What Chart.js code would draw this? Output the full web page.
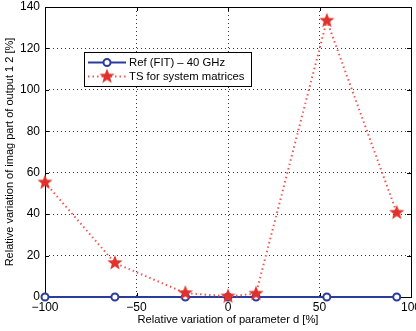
<!DOCTYPE html>
<html><head><meta charset="utf-8">
<script src="https://cdn.jsdelivr.net/npm/chart.js@4/dist/chart.umd.min.js"></script>
<style>html,body{margin:0;padding:0;background:#fff}#wrap{width:416px;height:331px}</style>
</head><body><div id="wrap"><canvas id="c" width="416" height="331"></canvas></div>
<script>
const paramVariation = [-100, -61.8, -23.3, 0, 15.3, 54, 92.2];
const refFit = [0, 0, 0, 0, 0, 0, 0];
const tsSystem = [55.3, 16.4, 1.9, 0.3, 1.6, 133.4, 40.7];
const xTicks = [-100, -50, 0, 50, 100];
const yTicks = [0, 20, 40, 60, 80, 100, 120, 140];
const seriesNames = ['Ref (FIT) \u2013 40 GHz', 'TS for system matrices'];

const BLUE = '#2a3c9c', RED = '#e2312b', RED_LINE = '#ee5a55';
const FONT = '"Liberation Sans", Arial, sans-serif';

function makeStar(r, color) {
  const s = Math.ceil(r * 2 + 2), c = document.createElement('canvas');
  c.width = s; c.height = s;
  const g = c.getContext('2d');
  g.translate(s / 2, s / 2);
  g.beginPath();
  for (let i = 0; i < 10; i++) {
    const rr = i % 2 === 0 ? r : r * 0.42;
    const a = -Math.PI / 2 + i * Math.PI / 5;
    g.lineTo(rr * Math.cos(a), rr * Math.sin(a));
  }
  g.closePath(); g.fillStyle = color; g.fill();
  return c;
}
const star = makeStar(8, RED);

const frame = {
  id: 'frame',
  beforeDatasetsDraw(chart) {
    const {ctx, chartArea: a, scales: {x, y}} = chart;
    ctx.save();
    ctx.strokeStyle = '#000'; ctx.lineWidth = 1;
    ctx.strokeRect(Math.round(a.left) + 0.5, Math.round(a.top) + 0.5, Math.round(a.right - a.left), Math.round(a.bottom - a.top));
    ctx.beginPath();
    xTicks.forEach(v => { const px = Math.round(x.getPixelForValue(v)) + 0.5;
      ctx.moveTo(px, a.bottom); ctx.lineTo(px, a.bottom - 4);
      ctx.moveTo(px, a.top); ctx.lineTo(px, a.top + 4); });
    yTicks.forEach(v => { const py = Math.round(y.getPixelForValue(v)) + 0.5;
      ctx.moveTo(a.left, py); ctx.lineTo(a.left + 4, py);
      ctx.moveTo(a.right, py); ctx.lineTo(a.right - 4, py); });
    ctx.stroke();
    ctx.restore();
  },
  afterDraw(chart) {
    const ctx = chart.ctx;
    const bx = 84, by = 52, bw = 167, bh = 34;
    ctx.save();
    ctx.fillStyle = '#fff'; ctx.fillRect(bx, by, bw, bh);
    ctx.strokeStyle = '#000'; ctx.lineWidth = 1;
    ctx.strokeRect(bx + 0.5, by + 0.5, bw, bh);
    let ry = 62.5;
    ctx.strokeStyle = BLUE; ctx.lineWidth = 2;
    ctx.beginPath(); ctx.moveTo(88, ry); ctx.lineTo(126, ry); ctx.stroke();
    ctx.fillStyle = '#fff'; ctx.beginPath(); ctx.arc(107, ry, 3.5, 0, Math.PI * 2); ctx.fill(); ctx.stroke();
    ry = 76.5;
    ctx.strokeStyle = RED_LINE; ctx.lineWidth = 2; ctx.setLineDash([1.5, 3]);
    ctx.beginPath(); ctx.moveTo(88, ry); ctx.lineTo(126, ry); ctx.stroke();
    ctx.setLineDash([]);
    ctx.drawImage(star, 107 - star.width / 2, ry - star.height / 2);
    ctx.fillStyle = '#000'; ctx.font = '11.3px ' + FONT; ctx.textBaseline = 'middle'; ctx.textAlign = 'left';
    ctx.fillText(seriesNames[0], 129, 63);
    ctx.fillText(seriesNames[1], 129, 77);
    ctx.restore();
  }
};

new Chart(document.getElementById('c'), {
  type: 'line',
  data: {
    datasets: [
      { label: seriesNames[0], data: paramVariation.map((v, i) => ({x: v, y: refFit[i]})),
        borderColor: BLUE, borderWidth: 2, pointStyle: 'circle', pointRadius: 3.5, pointBorderWidth: 2,
        pointBackgroundColor: '#fff', pointBorderColor: BLUE, clip: false, order: 2 },
      { label: seriesNames[1], data: paramVariation.map((v, i) => ({x: v, y: tsSystem[i]})),
        borderColor: RED_LINE, borderWidth: 2, borderDash: [1.5, 3], pointStyle: star, pointRadius: 8,
        clip: false, order: 1 }
    ]
  },
  options: {
    responsive: false, animation: false, devicePixelRatio: 1,
    layout: { autoPadding: false, padding: { top: 7, right: 5, left: 0, bottom: 0 } },
    plugins: { legend: { display: false }, tooltip: { enabled: false } },
    scales: {
      x: { type: 'linear', min: -100, max: 100,
        afterBuildTicks(s) { s.ticks = xTicks.map(v => ({value: v})); },
        afterFit(s) { s.height = 34; s.paddingLeft = 0; s.paddingRight = 0; },
        ticks: { color: '#000', font: { size: 12, family: FONT }, padding: 3, maxRotation: 0,
          callback: v => (v < 0 ? '\u2212' + Math.abs(v) : String(v)) },
        grid: { color: '#000', lineWidth: 0.8, drawTicks: false },
        border: { display: false, dash: [1, 3] },
        title: { display: true, text: 'Relative variation of parameter d [%]', color: '#000',
          font: { size: 11.2, family: FONT }, padding: { top: 0, bottom: 4 } } },
      y: { type: 'linear', min: 0, max: 140,
        afterBuildTicks(s) { s.ticks = yTicks.map(v => ({value: v})); },
        afterFit(s) { s.width = 45; s.paddingTop = 0; s.paddingBottom = 0; },
        ticks: { color: '#000', font: { size: 12, family: FONT }, padding: 5 },
        grid: { color: '#000', lineWidth: 0.8, drawTicks: false },
        border: { display: false, dash: [1, 3] },
        title: { display: true, text: 'Relative variation of imag part of output 1 2 [%]', color: '#000',
          font: { size: 11, family: FONT }, padding: { top: 3, bottom: 0 } } }
    }
  },
  plugins: [frame]
});
</script></body></html>
